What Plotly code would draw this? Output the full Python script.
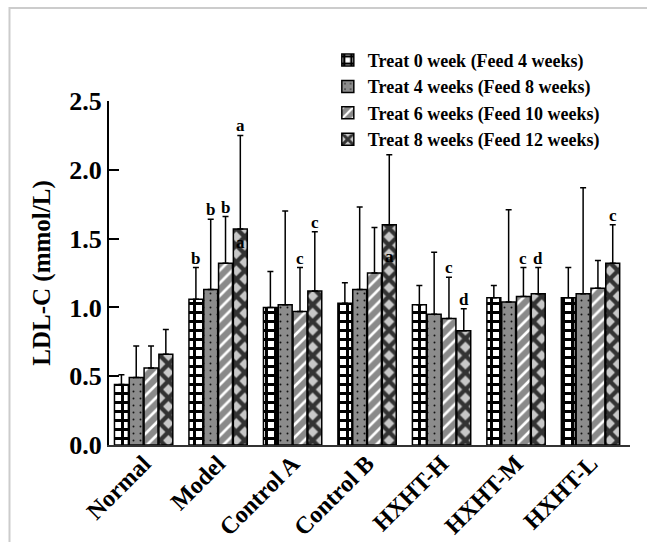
import plotly.graph_objects as go

groups = ["Normal", "Model", "Control A", "Control B", "HXHT-H", "HXHT-M", "HXHT-L"]
series_names = [
    "Treat 0 week (Feed 4 weeks)",
    "Treat 4 weeks (Feed 8 weeks)",
    "Treat 6 weeks (Feed 10 weeks)",
    "Treat 8 weeks (Feed 12 weeks)",
]
means = [
    [0.44, 1.06, 1.00, 1.03, 1.02, 1.07, 1.07],
    [0.49, 1.13, 1.02, 1.13, 0.95, 1.04, 1.10],
    [0.56, 1.32, 0.97, 1.25, 0.92, 1.08, 1.14],
    [0.66, 1.57, 1.12, 1.60, 0.83, 1.10, 1.32],
]
sds = [
    [0.07, 0.23, 0.26, 0.15, 0.14, 0.09, 0.22],
    [0.23, 0.51, 0.68, 0.60, 0.45, 0.67, 0.77],
    [0.16, 0.34, 0.32, 0.33, 0.30, 0.21, 0.20],
    [0.18, 0.68, 0.43, 0.51, 0.16, 0.19, 0.28],
]
letters_top = [
    ["", "b", "", "", "", "", ""],
    ["", "b", "", "", "", "", ""],
    ["", "b", "c", "", "c", "c", ""],
    ["", "a", "c", "", "d", "d", "c"],
]
# letters drawn inside the last bar of a group (text, y value)
letters_inside = [
    ["", "a", "", "a", "", "", ""],
]
letters_inside_y = [
    [None, 1.47, None, 1.37, None, None, None],
]

patterns = [
    dict(shape="+", fgcolor="#000000", bgcolor="#ffffff", size=9, solidity=0.55, fillmode="replace"),
    dict(shape=".", fgcolor="#111111", bgcolor="#8c8c8c", size=7, solidity=0.06, fillmode="replace"),
    dict(shape="/", fgcolor="#ffffff", bgcolor="#8a8a8a", size=9, solidity=0.3, fillmode="replace"),
    dict(shape="x", fgcolor="#333333", bgcolor="#c8c8c8", size=12, solidity=0.6, fillmode="replace"),
]

BARGAP = 0.205
n_series = len(series_names)
slot = (1 - BARGAP) / n_series
xs = list(range(len(groups)))

FONT = "Liberation Serif"
fig = go.Figure()
for k in range(n_series):
    fig.add_trace(go.Bar(
        x=xs, y=means[k], name=series_names[k],
        marker=dict(pattern=patterns[k], line=dict(color="#000000", width=1.5)),
        error_y=dict(type="data", symmetric=False, array=sds[k],
                     arrayminus=[0] * len(groups), color="#000000",
                     thickness=1.5, width=3),
    ))

annotations = []
for k in range(n_series):
    for i in range(len(groups)):
        t = letters_top[k][i]
        if t:
            annotations.append(dict(
                x=i + (k - (n_series - 1) / 2) * slot, y=means[k][i] + sds[k][i],
                xref="x", yref="y", text=t, showarrow=False,
                yanchor="bottom", yshift=-2,
                font=dict(family=FONT, size=17, color="#000000", weight="bold")))
for i in range(len(groups)):
    t = letters_inside[0][i]
    if t:
        annotations.append(dict(
            x=i + (3 - (n_series - 1) / 2) * slot, y=letters_inside_y[0][i],
            xref="x", yref="y", text=t, showarrow=False,
            font=dict(family=FONT, size=17, color="#000000", weight="bold")))

fig.update_layout(
    width=647, height=542,
    margin=dict(l=109, r=17, t=101, b=97),
    paper_bgcolor="#ffffff", plot_bgcolor="#ffffff",
    barmode="group", bargap=BARGAP, bargroupgap=0.06,
    font=dict(family=FONT, color="#000000"),
    showlegend=True,
    legend=dict(x=0.42, y=1.172, xanchor="left", yanchor="top",
                font=dict(family=FONT, size=18, color="#000000", weight="bold"),
                bgcolor="rgba(0,0,0,0)", tracegroupgap=0, itemwidth=30),
    annotations=annotations,
    shapes=[dict(type="rect", xref="paper", yref="paper",
                 x0=-0.191, y0=-0.5, x1=1.2, y1=1.27,
                 line=dict(color="#cccccc", width=2), layer="below")],
)
fig.update_xaxes(
    range=[-0.465, 6.53], tickmode="array", tickvals=xs, ticktext=groups,
    tickangle=-45, showline=True, linecolor="#333333", linewidth=2,
    ticks="", showgrid=False, zeroline=False, automargin=False,
    ticklabelstandoff=-7,
    tickfont=dict(family=FONT, size=24, color="#000000", weight="bold"),
)
fig.update_yaxes(
    range=[0, 2.5], tickvals=[0, 0.5, 1.0, 1.5, 2.0, 2.5], tickformat=".1f",
    ticks="inside", ticklen=10, tickwidth=2, tickcolor="#000000",
    showline=True, linecolor="#000000", linewidth=2,
    showgrid=False, zeroline=False, automargin=False,
    tickfont=dict(family=FONT, size=26, color="#000000", weight="bold"),
    title=dict(text="LDL-C (mmol/L)", standoff=12,
               font=dict(family=FONT, size=25, color="#000000", weight="bold")),
)
fig.write_html("out.html")
